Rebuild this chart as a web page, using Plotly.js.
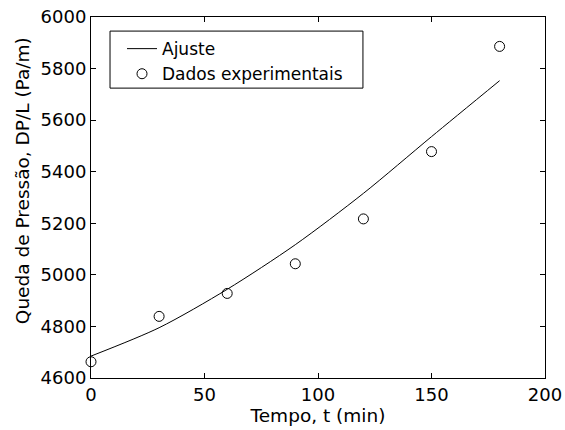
<!DOCTYPE html>
<html>
<head>
<meta charset="utf-8">
<script src="https://cdn.plot.ly/plotly-3.0.1.min.js"></script>
<style>html,body{margin:0;padding:0;background:#fff;}#chart{width:565px;height:430px;}</style>
</head>
<body>
<div id="chart"></div>
<script>
// Experimental data
var tempoExp = [0, 30, 60, 90, 120, 150, 180];
var dpExp = [4663, 4839, 4928, 5043, 5217, 5478, 5886];
// Fitted curve
var tempoFit = [0, 30, 60, 90, 120, 150, 180];
var dpFit = [4685, 4795, 4944, 5117, 5316, 5536, 5753];
var xTicks = [0, 50, 100, 150, 200];
var yTicks = [4600, 4800, 5000, 5200, 5400, 5600, 5800, 6000];

var FONT = 'DejaVu Sans, Liberation Sans, Arial, sans-serif';

var traces = [
  {
    x: tempoFit, y: dpFit, type: 'scatter', mode: 'lines', name: 'Ajuste',
    line: {color: '#000', width: 1, shape: 'spline', smoothing: 0.8}
  },
  {
    x: tempoExp, y: dpExp, type: 'scatter', mode: 'markers', name: 'Dados experimentais',
    marker: {symbol: 'circle-open', size: 10, color: '#000', line: {width: 1, color: '#000'}},
    cliponaxis: false
  }
];

var layout = {
  width: 565, height: 430,
  margin: {l: 91, r: 20, t: 17, b: 52},
  paper_bgcolor: '#fff', plot_bgcolor: '#fff',
  font: {family: FONT, size: 18, color: '#000'},
  showlegend: true,
  legend: {
    x: 0.0683, y: 0.961, xanchor: 'left', yanchor: 'top',
    bgcolor: 'rgba(0,0,0,0)', borderwidth: 0,
    font: {family: FONT, size: 17, color: '#000'},
    tracegroupgap: 0
  },
  shapes: [{
    type: 'rect', xref: 'paper', yref: 'paper',
    x0: 0.0419, x1: 0.599, y0: 0.803, y1: 0.961,
    line: {color: '#000', width: 1}, fillcolor: '#fff', layer: 'above'
  }],
  xaxis: {
    range: [0, 200], tickvals: xTicks, ticktext: xTicks.map(String),
    ticks: 'inside', ticklen: 5, tickcolor: '#000',
    showline: true, linecolor: '#000', linewidth: 1, mirror: 'ticks',
    showgrid: false, zeroline: false,
    tickfont: {family: FONT, size: 18},
    title: {text: 'Tempo, t (min)', font: {family: FONT, size: 18.5}, standoff: 3}
  },
  yaxis: {
    range: [4600, 6000], tickvals: yTicks, ticktext: yTicks.map(String),
    ticks: 'inside', ticklen: 5, tickcolor: '#000',
    showline: true, linecolor: '#000', linewidth: 1, mirror: 'ticks',
    showgrid: false, zeroline: false,
    tickfont: {family: FONT, size: 18}
  },
  annotations: [{
    text: 'Queda de Pressão, DP/L (Pa/m)', textangle: -90,
    xref: 'paper', yref: 'paper', x: -0.152, y: 0.548,
    xanchor: 'center', yanchor: 'middle', showarrow: false,
    font: {family: FONT, size: 18.5, color: '#000'}
  }]
};

Plotly.newPlot('chart', traces, layout, {displayModeBar: false, staticPlot: true});
</script>
</body>
</html>
